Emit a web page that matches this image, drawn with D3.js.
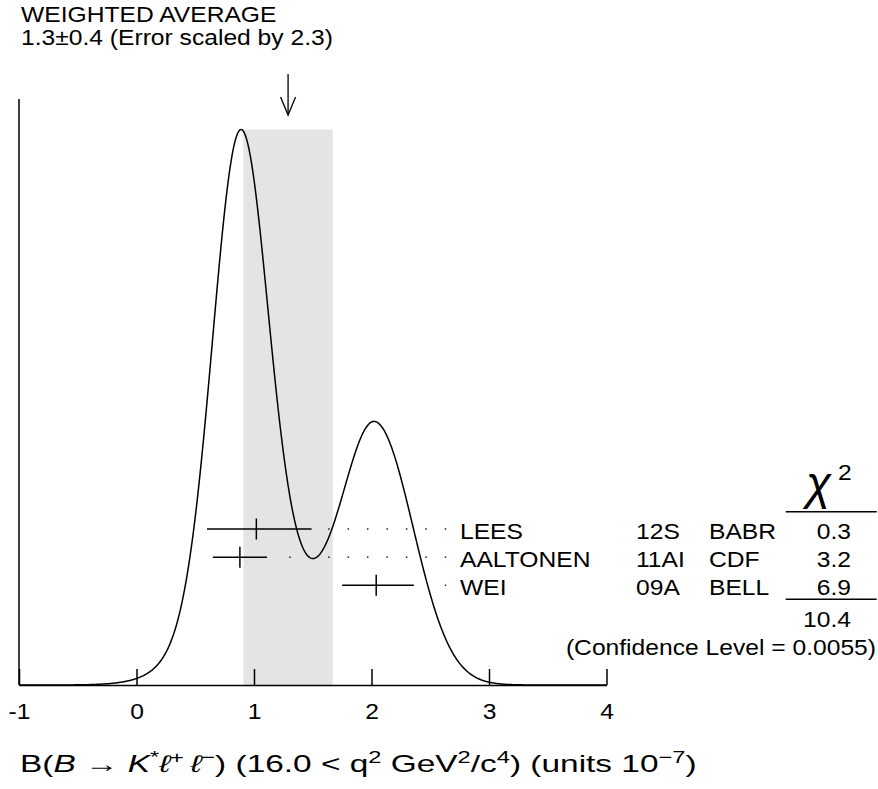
<!DOCTYPE html>
<html>
<head>
<meta charset="utf-8">
<script src="https://cdn.jsdelivr.net/npm/d3@7"></script>
<style>
  html, body { margin: 0; padding: 0; background: #fff; }
  svg { display: block; }
  text { font-family: "Liberation Sans", Arial, Helvetica, sans-serif; fill: #000; }
</style>
</head>
<body>
<script>
// ---------------- data ----------------
const names   = ["LEES", "AALTONEN", "WEI"];
const refs    = ["12S", "11AI", "09A"];
const expts   = ["BABR", "CDF", "BELL"];
const values  = [1.02, 0.88, 2.04];
const errLow  = [0.42, 0.23, 0.29];
const errHigh = [0.47, 0.23, 0.32];
const chi2    = ["0.3", "3.2", "6.9"];
const chi2Total = "10.4";
const confidenceLevel = "0.0055";
const average = 1.29;
const averageErr = 0.38;
const averageLabel = "1.3\u00B10.4";
const errorScale = "2.3";
const xTicks = [-1, 0, 1, 2, 3, 4];

// ---------------- layout ----------------
const W = 878, H = 789;
const SX = 1.12;          // horizontal stretch of the original lettering
const FS = 22;
const baseY = 685, topY = 129.5;

const svg = d3.select("body").append("svg").attr("width", W).attr("height", H);

const x = d3.scaleLinear().domain([-1, 4]).range([19, 606.5]);
const rowY = d3.scaleLinear().domain([0, names.length - 1]).range([529, 585.3]);

// ideogram: sum of (split) gaussians with area proportional to 1/sigma
function ideogram(v) {
  let s = 0;
  for (let i = 0; i < values.length; i++) {
    const sig = v < values[i] ? errLow[i] : errHigh[i];
    const sAvg = (errLow[i] + errHigh[i]) / 2;
    const z = (v - values[i]) / sig;
    s += Math.exp(-0.5 * z * z) / (sAvg * sAvg);
  }
  return s;
}
const grid = d3.range(-1, 4.0001, 0.005);
const curve = grid.map(v => [v, ideogram(v)]);
const maxC = d3.max(curve, d => d[1]);
const y = d3.scaleLinear().domain([0, maxC]).range([baseY, topY]);

function txt(g, px, py, s, opts = {}) {
  const t = g.append("text")
    .attr("transform", `translate(${px},${py}) scale(${opts.sx || SX},1)`)
    .attr("font-size", opts.fs || FS)
    .attr("text-anchor", opts.anchor || "start")
    .text(s);
  return t;
}

// band for weighted average
svg.append("rect")
  .attr("x", x(average - averageErr))
  .attr("y", topY)
  .attr("width", x(average + averageErr) - x(average - averageErr))
  .attr("height", baseY - topY)
  .attr("fill", "#e4e4e4");

// ideogram curve
svg.append("path")
  .datum(curve)
  .attr("fill", "none")
  .attr("stroke", "#000")
  .attr("stroke-width", 1.5)
  .attr("d", d3.line().x(d => x(d[0])).y(d => y(d[1])));

// left vertical line
svg.append("line")
  .attr("x1", x(-1)).attr("x2", x(-1))
  .attr("y1", 99).attr("y2", baseY)
  .attr("stroke", "#000").attr("stroke-width", 1.5);

// x axis
const ax = svg.append("g")
  .attr("transform", `translate(0,${baseY})`)
  .call(d3.axisBottom(x).tickValues(xTicks).tickFormat(d => String(d))
        .tickSizeInner(-16).tickSizeOuter(0).tickPadding(18));
ax.select(".domain").attr("stroke", "#000").attr("stroke-width", 1.5);
ax.selectAll(".tick line").attr("stroke", "#000").attr("stroke-width", 1.5);
ax.selectAll(".tick text")
  .attr("font-family", "Liberation Sans, Arial, sans-serif")
  .attr("font-size", FS)
  .attr("fill", "#000")
  .attr("transform", `scale(${SX},1)`);

// measurements
const meas = svg.append("g");
names.forEach((n, i) => {
  const yy = rowY(i);
  const lo = x(values[i] - errLow[i]), hi = x(values[i] + errHigh[i]), c = x(values[i]);
  meas.append("line").attr("x1", lo).attr("x2", hi).attr("y1", yy).attr("y2", yy)
    .attr("stroke", "#000").attr("stroke-width", 1.5);
  meas.append("line").attr("x1", c).attr("x2", c).attr("y1", yy - 10.5).attr("y2", yy + 10.5)
    .attr("stroke", "#000").attr("stroke-width", 1.5);
  // dotted leader
  for (let dx = 445.5; dx > hi + 15; dx -= 19.45) {
    meas.append("rect").attr("x", dx - 0.75).attr("y", yy - 0.75)
      .attr("width", 1.5).attr("height", 1.5).attr("fill", "#222");
  }
  txt(meas, 460, yy + 10, n);
  txt(meas, 636, yy + 10, refs[i]);
  txt(meas, 709, yy + 10, expts[i]);
  txt(meas, 851, yy + 10, chi2[i], { anchor: "end" });
});

// chi2 column
svg.append("text")
  .attr("x", 806).attr("y", 499)
  .attr("font-family", "DejaVu Serif, serif")
  .attr("font-style", "italic")
  .attr("font-size", 46)
  .text("\u03C7");
txt(svg, 838, 480, "2");
svg.append("line").attr("x1", 785.7).attr("x2", 876.7).attr("y1", 511.7).attr("y2", 511.7)
  .attr("stroke", "#000").attr("stroke-width", 1.5);
svg.append("line").attr("x1", 785.7).attr("x2", 876.7).attr("y1", 599.3).attr("y2", 599.3)
  .attr("stroke", "#000").attr("stroke-width", 1.5);
txt(svg, 851, 626.7, chi2Total, { anchor: "end" });
txt(svg, 876, 655, `(Confidence Level = ${confidenceLevel})`, { anchor: "end" });

// header
txt(svg, 21, 21.7, "WEIGHTED AVERAGE");
txt(svg, 21, 44.5, `${averageLabel} (Error scaled by ${errorScale})`);

// arrow
const axp = x(average);
svg.append("line").attr("x1", axp).attr("x2", axp).attr("y1", 74).attr("y2", 115)
  .attr("stroke", "#000").attr("stroke-width", 1.3);
svg.append("path")
  .attr("d", `M${axp - 7.5},97 L${axp},115 L${axp + 7.5},97`)
  .attr("fill", "none").attr("stroke", "#000").attr("stroke-width", 1.3);

// x-axis title
const tg = svg.append("g");
const tt = tg.append("text")
  .attr("font-family", "DejaVu Sans, sans-serif")
  .attr("font-size", 24);
const parts = [
  ["B(", ""], ["B", "i"], [" \u2192  ", ""], ["K", "i"], ["*", "s"], ["\u2113", "i"], ["+", "s"],
  ["\u2009\u2113", "i"], ["\u2212", "s"], [") (16.0 < q", ""], ["2", "s"], [" GeV", ""], ["2", "s"],
  ["/c", ""], ["4", "s"], [") (units 10", ""], ["\u22127", "s"], [")", ""]
];
parts.forEach(([s, k]) => {
  const sp = tt.append("tspan").text(s);
  if (k === "i") sp.attr("font-style", "italic");
  if (k === "s") sp.attr("baseline-shift", "super").attr("font-size", 17);
});
const bb = tt.node().getBBox();
const targetW = 677;
tg.attr("transform", `translate(20,772) scale(${targetW / bb.width},1)`);
</script>
</body>
</html>
